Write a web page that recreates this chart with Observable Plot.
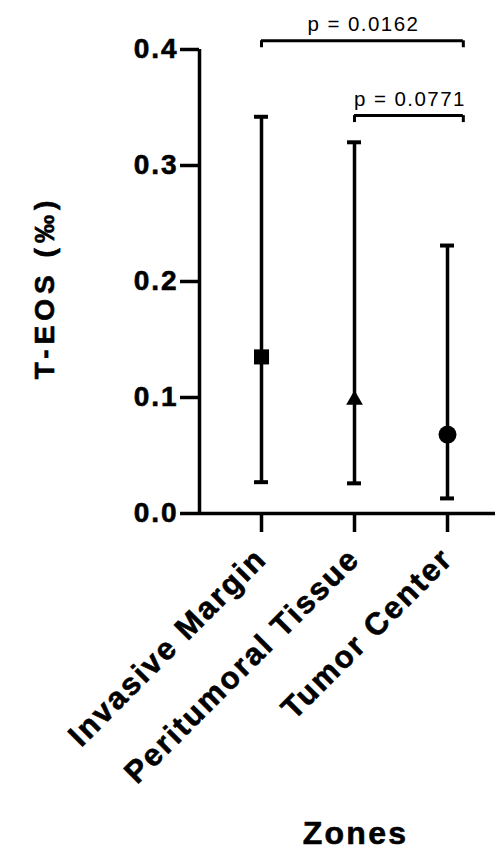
<!DOCTYPE html>
<html>
<head>
<meta charset="utf-8">
<script src="https://cdn.jsdelivr.net/npm/d3@7"></script>
<script src="https://cdn.jsdelivr.net/npm/@observablehq/plot@0.6"></script>
<style>
  html, body { margin: 0; padding: 0; background: #fff; }
  #chart svg { display: block; }
  #chart svg text { letter-spacing: 0.07em; }
  #chart svg g[font-weight="bold"] text, #chart svg text[font-weight="bold"] { stroke: #000; stroke-width: 0.6px; }
</style>
</head>
<body>
<div id="chart"></div>
<script>
// ---- data ----
const categories = ["Invasive Margin", "Peritumoral Tissue", "Tumor Center"];
const medians = [0.135, 0.098, 0.068];
const lowerBars = [0.027, 0.026, 0.013];
const upperBars = [0.342, 0.320, 0.231];
const yTicks = [0, 0.1, 0.2, 0.3, 0.4];
const pLabels = ["p = 0.0162", "p = 0.0771"];
const pFrom = [0, 1];
const pTo = [2, 2];
const pLevels = [0.4075, 0.343];
const yTitle = "T-EOS (‰)";
const xTitle = "Zones";

// ---- style constants ----
const FONT = "'Liberation Sans', Arial, Helvetica, sans-serif";
const capHalf = 0.075;      // half cap width in x units
const overhang = 0.17;      // bracket right end past the category
const legDrop = 0.006;      // bracket leg length in y units
const shapes = ["square", "triangle", "circle"];
const radii = [8.5, 6.2, 9];

const rows = categories.map((c, i) => ({i, c, m: medians[i], lo: lowerBars[i], hi: upperBars[i], shape: shapes[i]}));
const brackets = pLabels.map((p, k) => ({p, x1: pFrom[k], x2: pTo[k] + overhang, y: pLevels[k]}));

const marks = [
  // y axis line
  Plot.ruleX([-2/3], {y1: 0, y2: 0.4, strokeWidth: 3.5}),
  // x axis line
  Plot.ruleY([0], {strokeWidth: 3.5}),
  Plot.axisY(yTicks, {tickSize: 19, tickPadding: 2, tickFormat: d3.format(".1f"), fontSize: 28, fontWeight: "bold", strokeWidth: 3.5, label: null}),
  Plot.axisX([0, 1, 2], {tickSize: 19, tickPadding: 21, tickFormat: i => categories[i], tickRotate: -45, fontSize: 31, fontWeight: "bold", strokeWidth: 3.5, label: null}),
  // error bars
  Plot.ruleX(rows, {x: "i", y1: "lo", y2: "hi", strokeWidth: 3.5}),
  Plot.ruleY(rows, {y: "hi", x1: d => d.i - capHalf, x2: d => d.i + capHalf, strokeWidth: 4}),
  Plot.ruleY(rows, {y: "lo", x1: d => d.i - capHalf, x2: d => d.i + capHalf, strokeWidth: 4}),
  // brackets
  Plot.ruleY(brackets, {y: "y", x1: "x1", x2: "x2", strokeWidth: 3}),
  Plot.ruleX(brackets, {x: "x1", y1: d => d.y - legDrop, y2: "y", strokeWidth: 3}),
  Plot.ruleX(brackets, {x: "x2", y1: d => d.y - legDrop, y2: "y", strokeWidth: 3}),
  Plot.text(brackets, {x: d => (d.x1 + d.x2) / 2, y: "y", text: "p", dx: 1, dy: -10, lineAnchor: "bottom", fontSize: 20.5, fill: "black"}),
  // titles
  Plot.text([yTitle], {frameAnchor: "left", textAnchor: "middle", rotate: -90, dx: -154, dy: 6, fontSize: 28, fontWeight: "bold", fill: "black"}),
  Plot.text([xTitle], {frameAnchor: "bottom", textAnchor: "middle", dx: 8, dy: 330, lineAnchor: "bottom", fontSize: 32, fontWeight: "bold", fill: "black"})
];
shapes.forEach((s, k) => {
  marks.push(Plot.dot(rows.filter(d => d.shape === s), {x: "i", y: "m", symbol: s, r: radii[k], fill: "black", stroke: "none"}));
});

const chart = Plot.plot({
  width: 495,
  height: 851,
  marginTop: 49,
  marginBottom: 338,
  marginLeft: 199,
  marginRight: 0,
  style: {fontFamily: FONT, background: "white", color: "black"},
  x: {domain: [-2/3, 2.516], axis: null},
  y: {domain: [0, 0.4], axis: null},
  marks
});
document.getElementById("chart").appendChild(chart);
d3.select(chart).selectAll("text")
  .filter(function() { return this.textContent === yTitle; })
  .style("letter-spacing", "5px");
</script>
</body>
</html>
